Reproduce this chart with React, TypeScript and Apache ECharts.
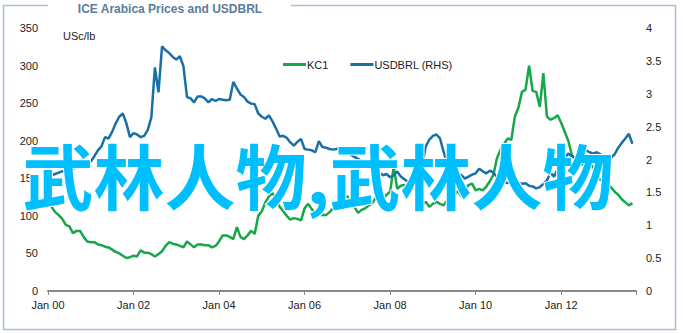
import React, { useEffect, useRef } from "react";
import * as echarts from "echarts";

const TITLE = "ICE Arabica Prices and USDBRL";
const UNIT_LABEL = "USc/lb";
const WATERMARK = "武林人物,武林人物";
const SERIES_NAMES = ["KC1", "USDBRL (RHS)"];
const X_TICK_LABELS = ["Jan 00", "Jan 02", "Jan 04", "Jan 06", "Jan 08", "Jan 10", "Jan 12"];

// monthly values, Jan 2000 onward (index = months since Jan 2000)
const KC1 = [
  116, 112, 105, 101, 96, 88, 86, 77, 80, 80, 72, 66,
  65, 65, 62, 61, 59, 58, 55, 52, 50, 47, 44, 45,
  47, 46, 54, 51, 51, 49, 46, 49, 53, 60, 65, 63,
  62, 60, 58, 66, 62, 58, 62, 62, 61, 61, 58, 60,
  66, 74, 74, 72, 69, 85, 72, 69, 74, 80, 76, 100,
  106, 118, 126, 130, 124, 112, 106, 100, 95, 97, 96, 94,
  110, 116, 109, 104, 101, 101, 101, 105, 110, 117, 122, 125,
  126, 116, 112, 104, 108, 110, 114, 117, 124, 125, 122, 128,
  132, 165, 136, 140, 141, 138, 137, 147, 130, 114, 119, 112,
  116, 119, 116, 114, 121, 124, 128, 133, 126, 136, 141, 143,
  134, 136, 134, 139, 146, 155, 177, 188, 196, 203, 201, 232,
  244, 265, 268, 300, 266, 265, 245, 290, 232, 228, 230, 234,
  224, 212, 200, 181, 176, 172, 168, 166, 170, 165, 152, 148,
  145, 143, 138, 132, 128, 122, 118, 114, 117,
];

const USDBRL = [
  1.77, 1.76, 1.78, 1.8, 1.82, 1.83, 1.84, 1.86, 1.88, 1.9, 1.92, 1.94,
  1.97, 2.05, 2.14, 2.2, 2.34, 2.32, 2.42, 2.55, 2.65, 2.7, 2.55, 2.34,
  2.4, 2.38, 2.34, 2.36, 2.45, 2.64, 3.4, 3.02, 3.72, 3.66, 3.62, 3.56,
  3.52, 3.57, 3.42, 2.95, 2.93, 2.87, 2.96, 2.96, 2.93, 2.87, 2.92, 2.89,
  2.92, 2.91, 2.9, 2.91, 3.18, 3.08, 2.99, 2.95, 2.88, 2.85, 2.84, 2.7,
  2.65, 2.62, 2.67, 2.58, 2.47, 2.35, 2.36, 2.33, 2.26, 2.21, 2.27, 2.31,
  2.16, 2.15, 2.14, 2.11, 2.28, 2.19, 2.18, 2.16, 2.15, 2.16, 2.18, 2.14,
  2.12, 2.07, 2.04, 2.01, 1.98, 1.93, 1.88, 1.94, 1.86, 1.8, 1.76, 1.78,
  1.73, 1.76, 1.82, 1.74, 1.7, 1.66, 1.6, 1.58, 1.62, 1.9, 2.2, 2.3,
  2.36, 2.38, 2.32, 2.12, 1.94, 1.85, 1.79, 1.78, 1.76, 1.71, 1.74, 1.77,
  1.79, 1.86, 1.82, 1.79, 1.83, 1.8, 1.73, 1.7, 1.66, 1.64, 1.66, 1.65,
  1.65, 1.63, 1.64, 1.6, 1.59, 1.56, 1.58, 1.63, 1.68, 1.8, 1.74, 1.85,
  1.98, 2.03, 2.09, 2.05, 2.02, 2.06, 2.1, 2.14, 2.11, 2.09, 2.11, 2.08,
  2.03, 2.01, 2.03, 2.08, 2.18, 2.25, 2.32, 2.39, 2.24,
];

const FONT = "'Liberation Sans', Arial, sans-serif";
const GREEN = "#17a64a";
const BLUE = "#1a6fa5";

export default function App() {
  const ref = useRef<HTMLDivElement>(null);

  useEffect(() => {
    if (!ref.current) return;
    const chart = echarts.init(ref.current, undefined, { renderer: "svg" });
    const axisLabel = { color: "#222", fontSize: 11, fontFamily: FONT };
    chart.setOption({
      animation: false,
      backgroundColor: "#fff",
      grid: { left: 48, right: 47, top: 28, bottom: 42, containLabel: false },
      legend: {
        left: 278,
        top: 54,
        icon: "rect",
        itemWidth: 23,
        itemHeight: 3,
        itemGap: 22,
        textStyle: { color: "#222", fontSize: 11, fontFamily: FONT, padding: [0, 0, 0, -4] },
        data: SERIES_NAMES,
      },
      xAxis: {
        type: "value",
        min: 0,
        max: 165,
        interval: 24,
        axisLine: { show: true, lineStyle: { color: "#888", width: 2 } },
        axisTick: { show: true, length: 4, lineStyle: { color: "#888", width: 1 } },
        splitLine: { show: false },
        axisLabel: {
          ...axisLabel,
          margin: 8,
          formatter: (v: number) => X_TICK_LABELS[Math.round(v / 24)] ?? "",
        },
      },
      yAxis: [
        {
          type: "value",
          min: 0,
          max: 350,
          interval: 50,
          axisLine: { show: false },
          axisTick: { show: false },
          splitLine: { show: false },
          axisLabel: { ...axisLabel, margin: 10 },
        },
        {
          type: "value",
          min: 0,
          max: 4,
          interval: 0.5,
          position: "right",
          axisLine: { show: false },
          axisTick: { show: false },
          splitLine: { show: false },
          axisLabel: { ...axisLabel, margin: 10 },
        },
      ],
      series: [
        {
          name: SERIES_NAMES[0],
          type: "line",
          yAxisIndex: 0,
          showSymbol: false,
          symbol: "none",
          lineStyle: { color: GREEN, width: 2.5 },
          itemStyle: { color: GREEN },
          data: KC1.map((v, i) => [i, v]),
          z: 2,
        },
        {
          name: SERIES_NAMES[1],
          type: "line",
          yAxisIndex: 1,
          showSymbol: false,
          symbol: "none",
          lineStyle: { color: BLUE, width: 2.5 },
          itemStyle: { color: BLUE },
          data: USDBRL.map((v, i) => [i, v]),
          z: 3,
        },
      ],
      graphic: [
        {
          type: "polyline",
          silent: true,
          z: 1,
          shape: {
            points: [
              [291, 5.5],
              [675.5, 5.5],
              [675.5, 329.5],
              [3.5, 329.5],
              [3.5, 5.5],
              [48, 5.5],
            ],
          },
          style: { stroke: "#a6bed6", lineWidth: 1.5, fill: "none" },
        },
        {
          type: "text",
          silent: true,
          z: 5,
          x: 170,
          y: 9,
          style: {
            text: TITLE,
            fill: "#5b7c9c",
            font: `bold 12px ${FONT}`,
            textAlign: "center",
            textVerticalAlign: "middle",
          },
        },
        {
          type: "text",
          silent: true,
          z: 5,
          x: 63,
          y: 36,
          style: {
            text: UNIT_LABEL,
            fill: "#222",
            font: `11px ${FONT}`,
            textAlign: "left",
            textVerticalAlign: "middle",
          },
        },
        {
          type: "text",
          silent: true,
          z: 100,
          x: 318,
          y: 173,
          style: {
            text: WATERMARK,
            fill: "#00bfff",
            stroke: "#fff",
            lineWidth: 2,
            font: `bold 71px 'Noto Sans CJK SC', sans-serif`,
            textAlign: "center",
            textVerticalAlign: "middle",
          },
        },
      ],
    });
    return () => chart.dispose();
  }, []);

  return (
    <div
      ref={ref}
      style={{ position: "fixed", left: 0, top: 0, width: 683, height: 333 }}
    />
  );
}
